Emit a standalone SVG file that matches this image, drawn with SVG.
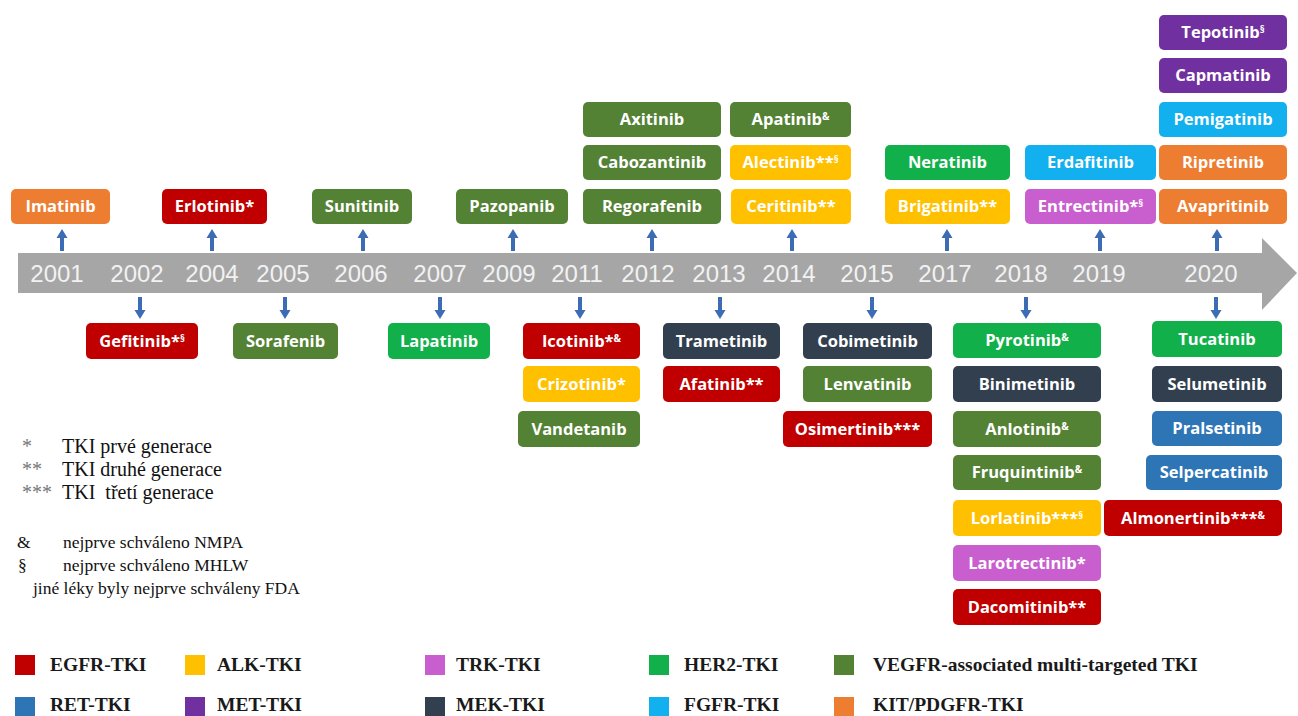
<svg xmlns="http://www.w3.org/2000/svg" width="1298" height="716" viewBox="0 0 1298 716">
<style>
.b{stroke:none}
.egfr{fill:#c00000}.alk{fill:#ffc000}.trk{fill:#c95fcf}.her2{fill:#12b04a}.vegf{fill:#548235}
.ret{fill:#2e75b6}.met{fill:#7030a0}.mek{fill:#323f4f}.fgfr{fill:#12b0ee}.kit{fill:#ed7d31}
.t{font-family:"Open Sans","Noto Sans","DejaVu Sans",sans-serif;font-weight:700;font-size:16.5px;fill:#fff;text-anchor:middle}
.s{font-size:10px}
.yr{font-family:"Liberation Sans",Arial,sans-serif;font-size:24px;fill:#f2f2f2;text-anchor:middle}
.lg1{font-family:"Liberation Serif","Times New Roman",serif;font-size:20px;fill:#111}
.lg2{font-family:"Liberation Serif","Times New Roman",serif;font-size:17.5px;fill:#111}
.ast{fill:#777}
.lg3{font-family:"Liberation Serif","Times New Roman",serif;font-size:19.5px;font-weight:700;fill:#1a1a1a}
.ar{fill:#3b6cb4}
</style>
<defs>
<path id="up" d="M-2,0 V-13 H-5.5 L0,-22 L5.5,-13 H2 V0 Z"/>
<path id="dn" d="M-2,0 V13 H-5.5 L0,22 L5.5,13 H2 V0 Z"/>
</defs>
<rect width="1298" height="716" fill="#fff"/>

<g id="timeline">
<polygon points="18,253 1262,253 1262,238 1297,273 1262,310 1262,293 18,293" fill="#a6a6a6"/>
<text class="yr" x="57" y="282">2001</text>
<text class="yr" x="137" y="282">2002</text>
<text class="yr" x="212" y="282">2004</text>
<text class="yr" x="283" y="282">2005</text>
<text class="yr" x="361" y="282">2006</text>
<text class="yr" x="440" y="282">2007</text>
<text class="yr" x="509" y="282">2009</text>
<text class="yr" x="577" y="282">2011</text>
<text class="yr" x="648" y="282">2012</text>
<text class="yr" x="719" y="282">2013</text>
<text class="yr" x="789" y="282">2014</text>
<text class="yr" x="867" y="282">2015</text>
<text class="yr" x="945" y="282">2017</text>
<text class="yr" x="1021" y="282">2018</text>
<text class="yr" x="1099" y="282">2019</text>
<text class="yr" x="1211" y="282">2020</text>
</g>

<g id="connectors" class="ar">
<use href="#up" x="62" y="251"/>
<use href="#up" x="212" y="251"/>
<use href="#up" x="363" y="251"/>
<use href="#up" x="513" y="251"/>
<use href="#up" x="652" y="251"/>
<use href="#up" x="792" y="251"/>
<use href="#up" x="947" y="251"/>
<use href="#up" x="1100" y="251"/>
<use href="#up" x="1217" y="251"/>
<use href="#dn" x="140" y="297"/>
<use href="#dn" x="285" y="297"/>
<use href="#dn" x="440" y="297"/>
<use href="#dn" x="580" y="297"/>
<use href="#dn" x="720" y="297"/>
<use href="#dn" x="872" y="297"/>
<use href="#dn" x="1026" y="297"/>
<use href="#dn" x="1216" y="297"/>
</g>

<!-- top nodes -->
<g id="imatinib"><rect class="kit" x="11" y="189" width="99" height="35" rx="5"/><text class="t" x="60.5" y="212">Imatinib</text></g>
<g id="erlotinib"><rect class="egfr" x="162" y="189" width="105" height="35" rx="5"/><text class="t" x="214.5" y="212">Erlotinib*</text></g>
<g id="sunitinib"><rect class="vegf" x="312" y="189" width="100" height="35" rx="5"/><text class="t" x="362" y="212">Sunitinib</text></g>
<g id="pazopanib"><rect class="vegf" x="456" y="189" width="112" height="35" rx="5"/><text class="t" x="512" y="212">Pazopanib</text></g>
<g id="axitinib"><rect class="vegf" x="583" y="102" width="138" height="35" rx="5"/><text class="t" x="652" y="125">Axitinib</text></g>
<g id="cabozantinib"><rect class="vegf" x="583" y="145" width="138" height="35" rx="5"/><text class="t" x="652" y="168">Cabozantinib</text></g>
<g id="regorafenib"><rect class="vegf" x="583" y="189" width="138" height="35" rx="5"/><text class="t" x="652" y="212">Regorafenib</text></g>
<g id="apatinib"><rect class="vegf" x="730" y="102" width="121" height="35" rx="5"/><text class="t" x="790.5" y="125">Apatinib<tspan class="s" dy="-5">&amp;</tspan></text></g>
<g id="alectinib"><rect class="alk" x="730" y="145" width="121" height="35" rx="5"/><text class="t" x="790.5" y="168">Alectinib**<tspan class="s" dy="-5">§</tspan></text></g>
<g id="ceritinib"><rect class="alk" x="731" y="189" width="120" height="35" rx="5"/><text class="t" x="791" y="212">Ceritinib**</text></g>
<g id="neratinib"><rect class="her2" x="885" y="145" width="125" height="35" rx="5"/><text class="t" x="947.5" y="168">Neratinib</text></g>
<g id="brigatinib"><rect class="alk" x="885" y="189" width="125" height="35" rx="5"/><text class="t" x="947.5" y="212">Brigatinib**</text></g>
<g id="erdafitinib"><rect class="fgfr" x="1025" y="145" width="131" height="35" rx="5"/><text class="t" x="1090.5" y="168">Erdafitinib</text></g>
<g id="entrectinib"><rect class="trk" x="1025" y="189" width="131" height="35" rx="5"/><text class="t" x="1090.5" y="212">Entrectinib*<tspan class="s" dy="-5">§</tspan></text></g>
<g id="tepotinib"><rect class="met" x="1159" y="15" width="128" height="35" rx="5"/><text class="t" x="1223" y="38">Tepotinib<tspan class="s" dy="-5">§</tspan></text></g>
<g id="capmatinib"><rect class="met" x="1159" y="58" width="128" height="35" rx="5"/><text class="t" x="1223" y="81">Capmatinib</text></g>
<g id="pemigatinib"><rect class="fgfr" x="1159" y="102" width="128" height="35" rx="5"/><text class="t" x="1223" y="125">Pemigatinib</text></g>
<g id="ripretinib"><rect class="kit" x="1159" y="145" width="128" height="35" rx="5"/><text class="t" x="1223" y="168">Ripretinib</text></g>
<g id="avapritinib"><rect class="kit" x="1159" y="189" width="128" height="35" rx="5"/><text class="t" x="1223" y="212">Avapritinib</text></g>

<!-- bottom nodes -->
<g id="gefitinib"><rect class="egfr" x="86" y="323" width="112" height="36" rx="5"/><text class="t" x="142" y="347">Gefitinib*<tspan class="s" dy="-5">§</tspan></text></g>
<g id="sorafenib"><rect class="vegf" x="233" y="323" width="105" height="36" rx="5"/><text class="t" x="285.5" y="347">Sorafenib</text></g>
<g id="lapatinib"><rect class="her2" x="388" y="323" width="102" height="36" rx="5"/><text class="t" x="439" y="347">Lapatinib</text></g>
<g id="icotinib"><rect class="egfr" x="523" y="323" width="117" height="36" rx="5"/><text class="t" x="581.5" y="347">Icotinib*<tspan class="s" dy="-5">&amp;</tspan></text></g>
<g id="crizotinib"><rect class="alk" x="523" y="366" width="117" height="36" rx="5"/><text class="t" x="581.5" y="390">Crizotinib*</text></g>
<g id="vandetanib"><rect class="vegf" x="518" y="411" width="122" height="36" rx="5"/><text class="t" x="579" y="435">Vandetanib</text></g>
<g id="trametinib"><rect class="mek" x="663" y="323" width="117" height="36" rx="5"/><text class="t" x="721.5" y="347">Trametinib</text></g>
<g id="afatinib"><rect class="egfr" x="663" y="366" width="117" height="36" rx="5"/><text class="t" x="721.5" y="390">Afatinib**</text></g>
<g id="cobimetinib"><rect class="mek" x="803" y="323" width="129" height="36" rx="5"/><text class="t" x="867.5" y="347">Cobimetinib</text></g>
<g id="lenvatinib"><rect class="vegf" x="803" y="366" width="129" height="36" rx="5"/><text class="t" x="867.5" y="390">Lenvatinib</text></g>
<g id="osimertinib"><rect class="egfr" x="783" y="411" width="149" height="36" rx="5"/><text class="t" x="857.5" y="435">Osimertinib***</text></g>
<g id="pyrotinib"><rect class="her2" x="953" y="323" width="148" height="35" rx="5"/><text class="t" x="1027" y="346">Pyrotinib<tspan class="s" dy="-5">&amp;</tspan></text></g>
<g id="binimetinib"><rect class="mek" x="953" y="366" width="148" height="36" rx="5"/><text class="t" x="1027" y="390">Binimetinib</text></g>
<g id="anlotinib"><rect class="vegf" x="953" y="411" width="148" height="36" rx="5"/><text class="t" x="1027" y="435">Anlotinib<tspan class="s" dy="-5">&amp;</tspan></text></g>
<g id="fruquintinib"><rect class="vegf" x="953" y="455" width="148" height="35" rx="5"/><text class="t" x="1027" y="478">Fruquintinib<tspan class="s" dy="-5">&amp;</tspan></text></g>
<g id="lorlatinib"><rect class="alk" x="953" y="500" width="148" height="36" rx="5"/><text class="t" x="1027" y="524">Lorlatinib***<tspan class="s" dy="-5">§</tspan></text></g>
<g id="larotrectinib"><rect class="trk" x="953" y="545" width="148" height="36" rx="5"/><text class="t" x="1027" y="569">Larotrectinib*</text></g>
<g id="dacomitinib"><rect class="egfr" x="953" y="589" width="148" height="36" rx="5"/><text class="t" x="1027" y="613">Dacomitinib**</text></g>
<g id="tucatinib"><rect class="her2" x="1152" y="321" width="130" height="36" rx="5"/><text class="t" x="1217" y="345">Tucatinib</text></g>
<g id="selumetinib"><rect class="mek" x="1152" y="366" width="130" height="36" rx="5"/><text class="t" x="1217" y="390">Selumetinib</text></g>
<g id="pralsetinib"><rect class="ret" x="1152" y="411" width="130" height="35" rx="5"/><text class="t" x="1217" y="434">Pralsetinib</text></g>
<g id="selpercatinib"><rect class="ret" x="1146" y="455" width="136" height="35" rx="5"/><text class="t" x="1214" y="478">Selpercatinib</text></g>
<g id="almonertinib"><rect class="egfr" x="1104" y="500" width="178" height="36" rx="5"/><text class="t" x="1193" y="524">Almonertinib***<tspan class="s" dy="-5">&amp;</tspan></text></g>

<!-- notes legend -->
<g id="notes">
<text class="lg1 ast" x="22" y="453">*</text><text class="lg1" x="62" y="453">TKI prvé generace</text>
<text class="lg1 ast" x="22" y="476">**</text><text class="lg1" x="62" y="476">TKI druhé generace</text>
<text class="lg1 ast" x="22" y="499">***</text><text class="lg1" x="62" y="499" xml:space="preserve">TKI  třetí generace</text>
<text class="lg2" x="17" y="548" fill="#444">&amp;</text><text class="lg2" x="63" y="548">nejprve schváleno NMPA</text>
<text class="lg2" x="18" y="571" fill="#666">§</text><text class="lg2" x="63" y="571">nejprve schváleno MHLW</text>
<text class="lg2" x="33" y="594">jiné léky byly nejprve schváleny FDA</text>
</g>

<!-- color legend -->
<g id="legend">
<rect class="egfr" x="15" y="655" width="20" height="20"/><text class="lg3" x="50" y="671">EGFR-TKI</text>
<rect class="alk" x="185" y="655" width="20" height="20"/><text class="lg3" x="217" y="671">ALK-TKI</text>
<rect class="trk" x="425" y="655" width="20" height="20"/><text class="lg3" x="456" y="671">TRK-TKI</text>
<rect class="her2" x="649" y="655" width="20" height="20"/><text class="lg3" x="684" y="671">HER2-TKI</text>
<rect class="vegf" x="834" y="655" width="20" height="20"/><text class="lg3" x="873" y="671">VEGFR-associated multi-targeted TKI</text>
<rect class="ret" x="15" y="697" width="20" height="19"/><text class="lg3" x="50" y="711">RET-TKI</text>
<rect class="met" x="185" y="697" width="20" height="19"/><text class="lg3" x="217" y="711">MET-TKI</text>
<rect class="mek" x="425" y="697" width="20" height="19"/><text class="lg3" x="456" y="711">MEK-TKI</text>
<rect class="fgfr" x="649" y="697" width="20" height="19"/><text class="lg3" x="684" y="711">FGFR-TKI</text>
<rect class="kit" x="834" y="697" width="20" height="19"/><text class="lg3" x="873" y="711">KIT/PDGFR-TKI</text>
</g>
</svg>
